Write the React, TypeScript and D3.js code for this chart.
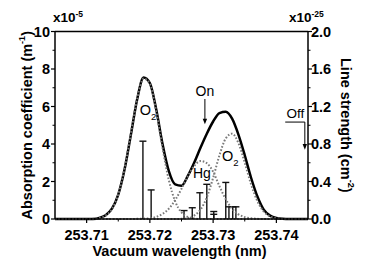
import React from 'react';
import * as d3 from 'd3';

// total absorption (x1e-5 m^-1) vs vacuum wavelength (nm)
const totalAbs: [number, number][] = [
  [253.705, 0], [253.711, 0], [253.712, 0.05], [253.713, 0.2], [253.714, 0.55],
  [253.715, 1.3], [253.716, 2.65], [253.717, 4.5], [253.718, 6.4], [253.719, 7.55],
  [253.72, 7.25], [253.721, 5.85], [253.722, 4.0], [253.723, 2.55], [253.724, 1.85],
  [253.725, 1.78], [253.726, 2.3], [253.727, 3.0], [253.728, 3.8], [253.729, 4.55],
  [253.73, 5.2], [253.731, 5.65], [253.732, 5.72], [253.733, 5.35], [253.734, 4.5],
  [253.735, 3.4], [253.736, 2.2], [253.737, 1.2], [253.738, 0.5], [253.739, 0.18],
  [253.74, 0.05], [253.741, 0.01], [253.742, 0], [253.745, 0],
];

// component profiles (dotted)
const o2First: [number, number][] = [
  [253.705, 0], [253.71, 0], [253.711, 0.01], [253.712, 0.05], [253.713, 0.18],
  [253.714, 0.53], [253.715, 1.31], [253.716, 2.7], [253.717, 4.58], [253.718, 6.43],
  [253.719, 7.49], [253.72, 7.21], [253.721, 5.75], [253.722, 3.79], [253.723, 2.07],
  [253.724, 0.94], [253.725, 0.35], [253.726, 0.11], [253.727, 0.03], [253.728, 0],
  [253.745, 0],
];
const hgProfile: [number, number][] = [
  [253.705, 0], [253.717, 0], [253.718, 0.01], [253.719, 0.02], [253.72, 0.04],
  [253.721, 0.11], [253.722, 0.27], [253.723, 0.55], [253.724, 1.01], [253.725, 1.61],
  [253.726, 2.28], [253.727, 2.83], [253.728, 3.09], [253.729, 2.98], [253.73, 2.52],
  [253.731, 1.75], [253.732, 1.05], [253.733, 0.55], [253.734, 0.25], [253.735, 0.1],
  [253.736, 0.04], [253.737, 0.01], [253.738, 0], [253.745, 0],
];
const o2Second: [number, number][] = [
  [253.705, 0], [253.724, 0], [253.725, 0.01], [253.726, 0.05], [253.727, 0.18],
  [253.728, 0.5], [253.729, 1.15], [253.73, 2.2], [253.731, 3.4], [253.732, 4.3],
  [253.733, 4.55], [253.734, 4.05], [253.735, 3.0], [253.736, 1.85], [253.737, 0.95],
  [253.738, 0.4], [253.739, 0.14], [253.74, 0.04], [253.741, 0.01], [253.742, 0],
  [253.745, 0],
];

// line strengths (x1e-25, right axis)
const stickWl = [253.7189, 253.7202, 253.7254, 253.7267, 253.7279, 253.729, 253.7301, 253.7301, 253.732, 253.7325, 253.7331, 253.7336];
const stickS = [0.83, 0.31, 0.09, 0.12, 0.28, 0.37, 0.08, 0.05, 0.39, 0.13, 0.13, 0.13];

const xTicks = [253.71, 253.72, 253.73, 253.74];
const xMinor = [253.715, 253.725, 253.735];
const leftTicks = [0, 2, 4, 6, 8, 10];
const leftMinor = [1, 3, 5, 7, 9];
const rightTicks = [0, 0.4, 0.8, 1.2, 1.6, 2.0];
const rightMinor = [0.2, 0.6, 1.0, 1.4, 1.8];

const W = 365, H = 262;
const m = { left: 55, right: 308, top: 31.5, bottom: 219 };
const font = '"Liberation Sans", Arial, sans-serif';

export default function App() {
  const x = d3.scaleLinear().domain([253.705, 253.745]).range([m.left, m.right]);
  const y = d3.scaleLinear().domain([0, 10]).range([m.bottom, m.top]);
  const y2 = d3.scaleLinear().domain([0, 2]).range([m.bottom, m.top]);
  const line = d3.line<[number, number]>()
    .x(d => x(d[0]))
    .y(d => y(d[1]))
    .curve(d3.curveMonotoneX);

  const dotted = { fill: 'none', stroke: '#7a7a7a', strokeWidth: 2, strokeDasharray: '1.6 1.8' };

  return (
    <svg width={W} height={H} style={{ position: 'absolute', left: 0, top: 0, background: '#fff' }} fontFamily={font}>
      {/* sticks */}
      {stickWl.map((w, i) => (
        <g key={'s' + i} stroke="#111" strokeWidth={1.4}>
          <line x1={x(w)} x2={x(w)} y1={y2(0)} y2={y2(stickS[i])} />
          <line x1={x(w) - 3.5} x2={x(w) + 3.5} y1={y2(stickS[i])} y2={y2(stickS[i])} />
        </g>
      ))}

      <path d={line(totalAbs) || ''} fill="none" stroke="#000" strokeWidth={2.5} />
      <path d={line(o2First) || ''} {...dotted} />
      <path d={line(hgProfile) || ''} {...dotted} />
      <path d={line(o2Second) || ''} {...dotted} />

      {/* frame */}
      <g stroke="#000" strokeWidth={1.5} fill="none">
        <line x1={m.left} x2={m.right} y1={m.top} y2={m.top} />
        <line x1={m.left} x2={m.right} y1={m.bottom} y2={m.bottom} />
        <line x1={m.left} x2={m.left} y1={m.top} y2={m.bottom} />
        <line x1={m.right} x2={m.right} y1={m.top} y2={m.bottom} />
      </g>

      {/* bottom axis */}
      {xTicks.map(t => (
        <g key={'x' + t}>
          <line x1={x(t)} x2={x(t)} y1={m.bottom} y2={m.bottom + 4} stroke="#000" strokeWidth={1.2} />
          <text x={x(t)} y={240} textAnchor="middle" fontSize={14.5} fontWeight="bold">{t.toFixed(2)}</text>
        </g>
      ))}
      {xMinor.map(t => (
        <line key={'xm' + t} x1={x(t)} x2={x(t)} y1={m.bottom} y2={m.bottom + 2.5} stroke="#000" strokeWidth={1} />
      ))}
      <text x={(m.left + m.right) / 2 - 2} y={256} textAnchor="middle" fontSize={14.5} fontWeight="bold">Vacuum wavelength (nm)</text>

      {/* left axis */}
      {leftTicks.map(t => (
        <g key={'l' + t}>
          <line x1={m.left - 4} x2={m.left} y1={y(t)} y2={y(t)} stroke="#000" strokeWidth={1.2} />
          <text x={m.left - 5} y={y(t)} dy="0.35em" textAnchor="end" fontSize={14.5} fontWeight="bold">{t}</text>
        </g>
      ))}
      {leftMinor.map(t => (
        <line key={'lm' + t} x1={m.left - 2.5} x2={m.left} y1={y(t)} y2={y(t)} stroke="#000" strokeWidth={1} />
      ))}
      <text x={53} y={22} fontSize={13.5} fontWeight="bold">x10<tspan fontSize={8.5} dy={-5}>-5</tspan></text>
      <text transform={`translate(27,${(m.top + m.bottom) / 2}) rotate(-90)`} textAnchor="middle" dominantBaseline="central" fontSize={14.5} fontWeight="bold">
        Absorption coefficient (m<tspan fontSize={9} dy={-5}>-1</tspan><tspan dy={5}>)</tspan>
      </text>

      {/* right axis */}
      {rightTicks.map(t => (
        <g key={'r' + t}>
          <line x1={m.right} x2={m.right + 4} y1={y2(t)} y2={y2(t)} stroke="#000" strokeWidth={1.2} />
          <text x={m.right + 3} y={y2(t)} dy="0.35em" fontSize={14.5} fontWeight="bold">{t.toFixed(1)}</text>
        </g>
      ))}
      {rightMinor.map(t => (
        <line key={'rm' + t} x1={m.right} x2={m.right + 2.5} y1={y2(t)} y2={y2(t)} stroke="#000" strokeWidth={1} />
      ))}
      <text x={289} y={22} fontSize={13.5} fontWeight="bold">x10<tspan fontSize={8.5} dy={-5}>-25</tspan></text>
      <text transform={`translate(346,${(m.top + m.bottom) / 2}) rotate(90)`} textAnchor="middle" dominantBaseline="central" fontSize={14.5} fontWeight="bold">
        Line strength (cm<tspan fontSize={9} dy={-5}>-2</tspan><tspan dy={5}>)</tspan>
      </text>

      {/* annotations */}
      <text x={x(253.7184)} y={y(5.55)} fontSize={14.5}>O<tspan fontSize={9.5} dy={5}>2</tspan></text>
      <text x={x(253.7314)} y={y(3.09)} fontSize={14.5}>O<tspan fontSize={9.5} dy={5}>2</tspan></text>
      <text x={x(253.7268)} y={y(2.2)} fontSize={14}>Hg</text>
      <text x={x(253.7287)} y={y(6.56)} textAnchor="middle" fontSize={14}>On</text>
      <line x1={x(253.7287)} x2={x(253.7287)} y1={y(6.4)} y2={y(5.3)} stroke="#000" strokeWidth={1} />
      <path d={`M${x(253.7287) - 2.2},${y(5.35)} L${x(253.7287) + 2.2},${y(5.35)} L${x(253.7287)},${y(5.05)} Z`} fill="#000" />
      <text x={x(253.7416)} y={y(5.4)} fontSize={13.5}>Off</text>
      <path d={`M${x(253.7414)},${y(5.17)} L${x(253.7445)},${y(5.17)} L${x(253.7445)},${y(3.95)}`} fill="none" stroke="#000" strokeWidth={1} />
      <path d={`M${x(253.7445) - 2.2},${y(4.0)} L${x(253.7445) + 2.2},${y(4.0)} L${x(253.7445)},${y(3.7)} Z`} fill="#000" />
    </svg>
  );
}
